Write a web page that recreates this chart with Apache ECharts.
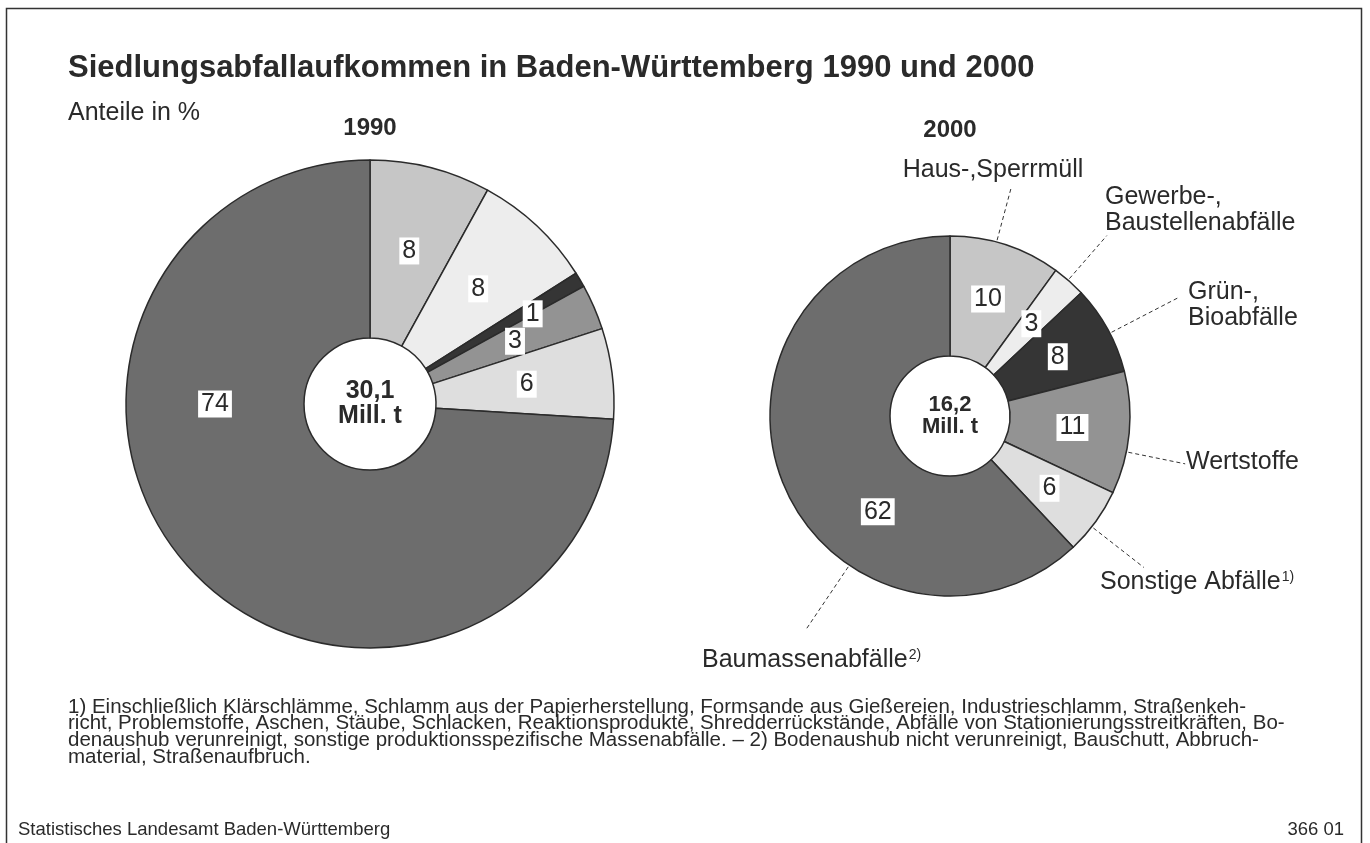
<!DOCTYPE html>
<html>
<head>
<meta charset="utf-8">
<script src="https://cdn.jsdelivr.net/npm/echarts@6/dist/echarts.min.js"></script>
<style>
html,body{margin:0;padding:0;background:#fff}
#main{width:1370px;height:843px}
</style>
</head>
<body>
<div id="main"></div>
<script>
// Anteile in %
var categories = ['Haus-,Sperrmüll', 'Gewerbe-, Baustellenabfälle', 'Grün-, Bioabfälle', 'Wertstoffe', 'Sonstige Abfälle', 'Baumassenabfälle']
var name_labels = ['Haus-,Sperrmüll', 'Gewerbe-,\nBaustellenabfälle', 'Grün-,\nBioabfälle', 'Wertstoffe', 'Sonstige Abfälle{sup|1)}', 'Baumassenabfälle{sup|2)}']
var values_1990 = [8, 8, 1, 3, 6, 74]
var values_2000 = [10, 3, 8, 11, 6, 62]
var years = ['1990', '2000']
var totals = ['30,1', '16,2']
var footnotes = [
	'1) Einschließlich Klärschlämme, Schlamm aus der Papierherstellung, Formsande aus Gießereien, Industrieschlamm, Straßenkeh-',
	'richt, Problemstoffe, Aschen, Stäube, Schlacken, Reaktionsprodukte, Shredderrückstände, Abfälle von Stationierungsstreitkräften, Bo-',
	'denaushub verunreinigt, sonstige produktionsspezifische Massenabfälle. – 2) Bodenaushub nicht verunreinigt, Bauschutt, Abbruch-',
	'material, Straßenaufbruch.'
]

var fills = ['#c6c6c6', '#ededed', '#353535', '#939393', '#dedede', '#6d6d6d']
var ink = '#2a2a2a'
var font = "'Liberation Sans', Arial, sans-serif"

// name labels of the 2000 pie: [x, y, align]
var name_pos = [
	[993, 170, 'center'],
	[1105, 210, 'left'],
	[1188, 305, 'left'],
	[1186, 462, 'left'],
	[1100, 582, 'left'],
	[702, 660, 'left']
]
// dashed leaders of the 2000 pie: angle (deg, clockwise from top) and outer end radius
var leader_angle = [15, 41, 62.6, 101.5, 128, 214]
var leader_end = [236, 239, 259, 240, 246, 257]

var pie_1990 = {center: [370, 404], radius: [66, 244]}
var pie_2000 = {center: [950, 416], radius: [60, 180]}
// number labels that sit off the slice middle: index -> [angle, radius]
var moved_1990 = {2: [61, 186], 5: [270, 155]}
var moved_2000 = {5: [217, 120]}

function make_data(values){
	let out = []
	for(let i=0,len=values.length;i<len;i++){
		out.push({name: categories[i], value: values[i], itemStyle: {color: fills[i]}})
	}
	return out
}

function move_labels(pie, moved){
	return function(params){
		let m = moved[params.dataIndex]
		if(!m) return
		let a = m[0] * Math.PI / 180
		return {
			x: pie.center[0] + m[1] * Math.sin(a),
			y: pie.center[1] - m[1] * Math.cos(a),
			align: 'center',
			verticalAlign: 'middle'
		}
	}
}

function number_label(){
	return {
		show: true,
		position: 'inside',
		formatter: '{c}',
		fontFamily: font,
		fontSize: 25,
		color: ink,
		backgroundColor: '#fff',
		padding: [2, 3, 0, 3]
	}
}

function txt(x, y, text, size, weight, align, lh, rich){
	let style = {
		text: text, fill: ink,
		fontSize: size, fontWeight: weight || 'normal', fontFamily: font,
		lineHeight: lh || Math.round(size * 1.15),
		align: align || 'left', textAlign: align || 'left',
		verticalAlign: 'middle', textVerticalAlign: 'middle'
	}
	if(rich) style.rich = rich
	return {type: 'text', x: x, y: y, silent: true, style: style}
}

var sup = {sup: {fontFamily: font, fontSize: 14, fill: ink, lineHeight: 25, padding: [0, 0, 10, 1]}}

var graphics = [
	{type: 'rect', silent: true, shape: {x: 6.5, y: 8.5, width: 1355, height: 860},
		style: {fill: 'none', stroke: '#333', lineWidth: 1.5}},
	txt(68, 68, 'Siedlungsabfallaufkommen in Baden-Württemberg 1990 und 2000', 31, 'bold'),
	txt(68, 113, 'Anteile in %', 25),
	txt(pie_1990.center[0], 128, years[0], 24, 'bold', 'center'),
	txt(pie_2000.center[0], 130, years[1], 24, 'bold', 'center'),
	txt(pie_1990.center[0], pie_1990.center[1], totals[0] + '\nMill. t', 25, 'bold', 'center', 25),
	txt(pie_2000.center[0], pie_2000.center[1], totals[1] + '\nMill. t', 22, 'bold', 'center', 22),
	txt(18, 830, 'Statistisches Landesamt Baden-Württemberg', 18.5),
	txt(1344, 830, '366 01', 18.5, 'normal', 'right')
]
for(let i=0;i<footnotes.length;i++){
	graphics.push(txt(68, 707 + i * 16.7, footnotes[i], 20.5))
}
for(let i=0;i<name_labels.length;i++){
	let p = name_pos[i]
	graphics.push(txt(p[0], p[1], name_labels[i], 25, 'normal', p[2], 26, sup))
}

var series = [
	{
		name: years[0],
		type: 'pie',
		silent: true,
		center: pie_1990.center,
		radius: pie_1990.radius,
		startAngle: 90,
		clockwise: true,
		avoidLabelOverlap: false,
		itemStyle: {borderColor: '#2b2b2b', borderWidth: 1.5},
		label: number_label(),
		labelLine: {show: false},
		labelLayout: move_labels(pie_1990, moved_1990),
		data: make_data(values_1990)
	},
	{
		name: years[1],
		type: 'pie',
		silent: true,
		center: pie_2000.center,
		radius: pie_2000.radius,
		startAngle: 90,
		clockwise: true,
		avoidLabelOverlap: false,
		itemStyle: {borderColor: '#2b2b2b', borderWidth: 1.5},
		label: number_label(),
		labelLine: {show: false},
		labelLayout: move_labels(pie_2000, moved_2000),
		data: make_data(values_2000)
	}
]
// leaders drawn on a polar system laid over the 2000 pie
for(let i=0;i<leader_angle.length;i++){
	series.push({
		name: 'leader ' + categories[i],
		type: 'line',
		coordinateSystem: 'polar',
		silent: true,
		symbol: 'none',
		lineStyle: {color: '#333', width: 1, type: [4, 3]},
		data: [[pie_2000.radius[1] + 2, leader_angle[i]], [leader_end[i], leader_angle[i]]]
	})
}

var chart = echarts.init(document.getElementById('main'))
var option = {
	backgroundColor: '#fff',
	animation: false,
	graphic: graphics,
	polar: {center: pie_2000.center, radius: [0, 260]},
	angleAxis: {type: 'value', min: 0, max: 360, startAngle: 90, clockwise: true, show: false},
	radiusAxis: {type: 'value', min: 0, max: 260, show: false},
	series: series
}
chart.setOption(option)
</script>
</body>
</html>
